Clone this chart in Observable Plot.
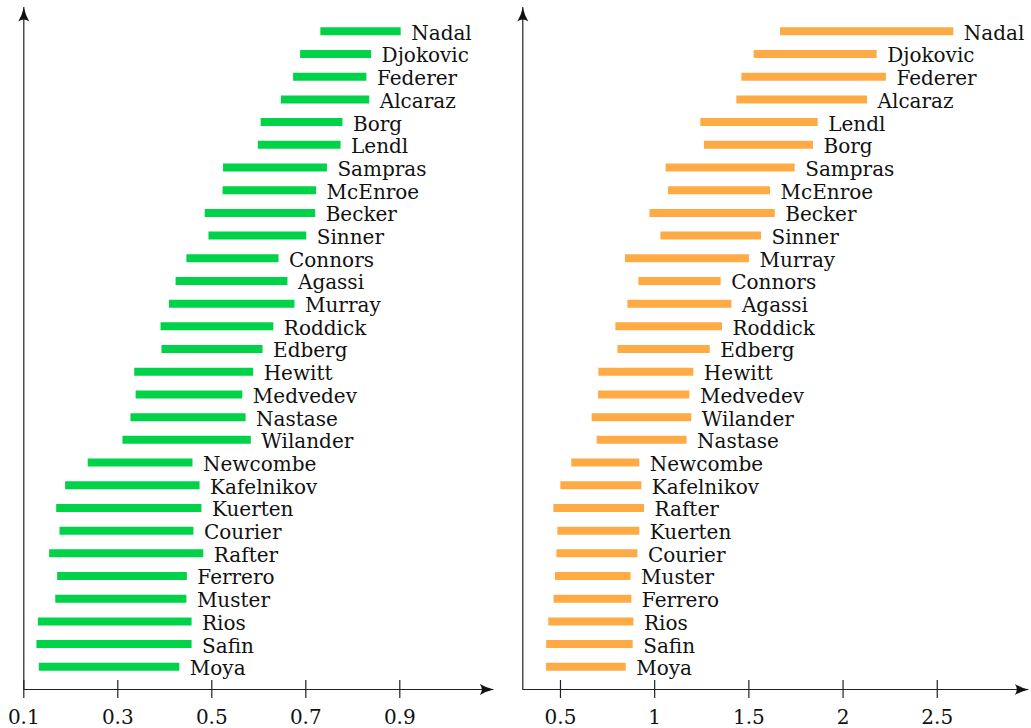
<!DOCTYPE html>
<html>
<head>
<meta charset="utf-8">
<script src="https://cdn.jsdelivr.net/npm/d3@7"></script>
<script src="https://cdn.jsdelivr.net/npm/@observablehq/plot@0.6"></script>
<style>
  html, body { margin: 0; padding: 0; background: #fff; }
  #wrap { position: relative; width: 1031px; height: 728px; overflow: hidden; }
  #wrap svg { position: absolute; top: 0; overflow: visible; }
</style>
</head>
<body>
<div id="wrap"></div>
<script>
// ---- data ----
const leftNames = ["Nadal","Djokovic","Federer","Alcaraz","Borg","Lendl","Sampras","McEnroe","Becker","Sinner","Connors","Agassi","Murray","Roddick","Edberg","Hewitt","Medvedev","Nastase","Wilander","Newcombe","Kafelnikov","Kuerten","Courier","Rafter","Ferrero","Muster","Rios","Safin","Moya"];
const leftStart = [0.732,0.689,0.674,0.648,0.605,0.599,0.525,0.524,0.486,0.494,0.447,0.424,0.410,0.392,0.394,0.336,0.339,0.328,0.311,0.237,0.189,0.170,0.177,0.155,0.172,0.168,0.131,0.128,0.133];
const leftEnd   = [0.903,0.840,0.830,0.836,0.779,0.775,0.746,0.723,0.721,0.702,0.643,0.662,0.677,0.632,0.609,0.589,0.566,0.573,0.584,0.460,0.475,0.479,0.462,0.483,0.448,0.447,0.458,0.458,0.432];
const leftTicks = [0.1, 0.3, 0.5, 0.7, 0.9];

const rightNames = ["Nadal","Djokovic","Federer","Alcaraz","Lendl","Borg","Sampras","McEnroe","Becker","Sinner","Murray","Connors","Agassi","Roddick","Edberg","Hewitt","Medvedev","Wilander","Nastase","Newcombe","Kafelnikov","Rafter","Kuerten","Courier","Muster","Ferrero","Rios","Safin","Moya"];
const rightStart = [1.668,1.528,1.463,1.436,1.245,1.264,1.061,1.073,0.975,1.033,0.845,0.916,0.858,0.794,0.805,0.704,0.702,0.668,0.695,0.560,0.502,0.465,0.486,0.481,0.473,0.466,0.438,0.427,0.426];
const rightEnd   = [2.588,2.181,2.230,2.130,1.868,1.843,1.746,1.615,1.640,1.567,1.503,1.353,1.410,1.360,1.295,1.208,1.187,1.197,1.172,0.921,0.932,0.946,0.921,0.911,0.875,0.879,0.890,0.886,0.849];
const rightTicks = [0.5, 1, 1.5, 2, 2.5];

// LaTeX-like filled arrowhead, tip at origin pointing right
const arrowHead = {
  draw(ctx) {
    ctx.moveTo(0, 0);
    ctx.quadraticCurveTo(-7, -1.5, -14, -5.5);
    ctx.quadraticCurveTo(-10, 0, -14, 5.5);
    ctx.quadraticCurveTo(-7, 1.5, 0, 0);
    ctx.closePath();
  }
};

const AXIS = "#222";
const FONT = "DejaVu Serif";
const FS = 20;

function panel({names, start, end, color, domain, ticks, width, marginLeft, marginRight, tickFormat}) {
  const rows = names.map((name, i) => ({name, i, start: start[i], end: end[i]}));
  const yBase = names.length;   // x-axis sits one row below the last bar
  const yTop = -1.05;           // top of the y-axis arrow
  return Plot.plot({
    width, height: 728,
    marginLeft, marginRight, marginTop: 7, marginBottom: 39,
    x: {domain, axis: null},
    y: {domain: [yBase, yTop], axis: null},
    style: {fontFamily: FONT, fontSize: FS + "px", color: "#111", background: "transparent", overflow: "visible"},
    marks: [
      Plot.ruleY(rows, {y: "i", x1: "start", x2: "end", stroke: color, strokeWidth: 8, strokeLinecap: "butt"}),
      Plot.text(rows, {x: "end", y: "i", text: "name", textAnchor: "start", dx: 10, dy: 2, fontSize: FS, fill: "#111", fontFamily: FONT}),
      Plot.ruleY([yBase], {x1: domain[0], x2: domain[1], stroke: AXIS, strokeWidth: 1.2}),
      Plot.ruleX([domain[0]], {y1: yBase, y2: yTop, stroke: AXIS, strokeWidth: 1.2}),
      Plot.ruleX(ticks, {x: d => d, y1: yBase, y2: yBase, insetTop: -9, insetBottom: -9, stroke: AXIS, strokeWidth: 1.2}),
      Plot.dot([{x: domain[1], y: yBase}], {x: "x", y: "y", symbol: arrowHead, fill: "#111", stroke: "none", rotate: 0}),
      Plot.dot([{x: domain[0], y: yTop}], {x: "x", y: "y", symbol: arrowHead, fill: "#111", stroke: "none", rotate: -90}),
      Plot.axisX(ticks, {tickSize: 0, tickPadding: 20, fontSize: FS, fontFamily: FONT, fill: "#111", tickFormat})
    ]
  });
}

const wrap = document.getElementById("wrap");

const left = panel({
  names: leftNames, start: leftStart, end: leftEnd, color: "#00d348",
  domain: [0.1, 1.1], ticks: leftTicks, width: 515, marginLeft: 23.3, marginRight: 21.7,
  tickFormat: d => d.toFixed(1)
});
left.style.left = "0px";
wrap.appendChild(left);

const right = panel({
  names: rightNames, start: rightStart, end: rightEnd, color: "#ffab45",
  domain: [0.3, 2.986], ticks: rightTicks, width: 531, marginLeft: 22.3, marginRight: 2.7,
  tickFormat: d => String(d)
});
right.style.left = "500px";
wrap.appendChild(right);
</script>
</body>
</html>
